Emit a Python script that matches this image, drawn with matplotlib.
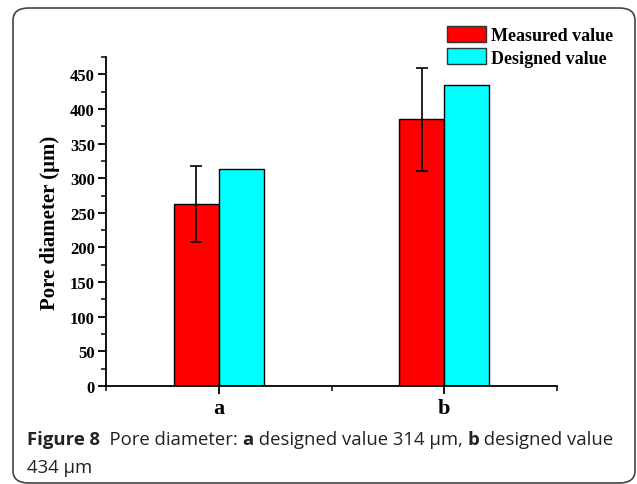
import numpy as np
import matplotlib as mpl
mpl.use('Agg')
from matplotlib import pyplot as plt
from matplotlib.patches import FancyBboxPatch, Patch
from matplotlib.ticker import MultipleLocator, FixedLocator

# data
groups = ["a", "b"]
measured = [263, 385]
measured_err = [55, 74]
designed = [314, 434]
series_names = ["Measured value", "Designed value"]

SERIF = "Liberation Serif"
SANS = "Open Sans"

fig = plt.figure(figsize=(6.37, 4.85), dpi=100)
ax = fig.add_axes([106 / 637, 1 - 387 / 485, 451 / 637, 329 / 485])

x = np.arange(1, len(groups) + 1)
w = 0.2
ax.bar(x - w / 2, measured, w, color="red", edgecolor="black", linewidth=1)
ax.bar(x + w / 2, designed, w, color="cyan", edgecolor="black", linewidth=1)
ax.errorbar(x - w / 2, measured, yerr=measured_err, fmt="none",
            ecolor="black", elinewidth=1.2, capsize=4.5, capthick=1.2)

ax.set_xlim(0.5, 2.5)
ax.set_ylim(0, 475)
ax.set_xticks(x)
ax.set_xticklabels(groups)
ax.xaxis.set_minor_locator(FixedLocator([0.5, 1.5, 2.5]))
ax.yaxis.set_major_locator(MultipleLocator(50))
ax.yaxis.set_minor_locator(MultipleLocator(25))
for s in ["top", "right"]:
    ax.spines[s].set_visible(False)
for s in ["left", "bottom"]:
    ax.spines[s].set_linewidth(1.3)
ax.tick_params(which="major", length=6, width=1.3, direction="out")
ax.tick_params(which="minor", length=3.5, width=1.1, direction="out")
ax.tick_params(axis="y", labelsize=12, pad=2)
ax.tick_params(axis="x", labelsize=16, pad=3)
for lbl in ax.get_xticklabels() + ax.get_yticklabels():
    lbl.set_fontfamily(SERIF)
    lbl.set_fontweight("bold")

ax.set_ylabel("Pore diameter (\u03bcm)", fontsize=15, fontfamily=SERIF,
              fontweight="bold", labelpad=7)

handles = [Patch(facecolor="red", edgecolor="#333333", linewidth=1),
           Patch(facecolor="cyan", edgecolor="#333333", linewidth=1)]
leg = fig.legend(handles, series_names, loc="upper left",
                 bbox_to_anchor=(447 / 637, 1 - 27 / 485), frameon=False,
                 prop={"family": SERIF, "weight": "bold", "size": 13},
                 handlelength=2.15, handleheight=1.0, handletextpad=0.28,
                 labelspacing=0.22, borderpad=0, borderaxespad=0)

# rounded frame around the whole figure
frame = FancyBboxPatch((13 / 637, 1 - 484 / 485), 622 / 637, 475 / 485,
                       boxstyle="round,pad=0,rounding_size=0.025",
                       transform=fig.transFigure, facecolor="none",
                       edgecolor="#444444", linewidth=1.2, zorder=0)
fig.patches.append(frame)

# caption with mixed bold pieces
line1 = [("Figure 8", "bold"), ("  Pore diameter: ", "normal"), ("a", "bold"),
         (" designed value 314 \u03bcm, ", "normal"), ("b", "bold"),
         (" designed value", "normal")]
fig.canvas.draw()
r = fig.canvas.get_renderer()
xpos = 27
for txt, wt in line1:
    t = fig.text(xpos / 637, 1 - 445 / 485, txt, fontsize=13.3, fontfamily=SANS,
                 fontweight=wt, color="#222222")
    bb = t.get_window_extent(renderer=r)
    xpos += bb.width
fig.text(27 / 637, 1 - 473 / 485, "434 \u03bcm", fontsize=13.3, fontfamily=SANS,
         color="#222222")

fig.savefig("out.png", dpi=100)
